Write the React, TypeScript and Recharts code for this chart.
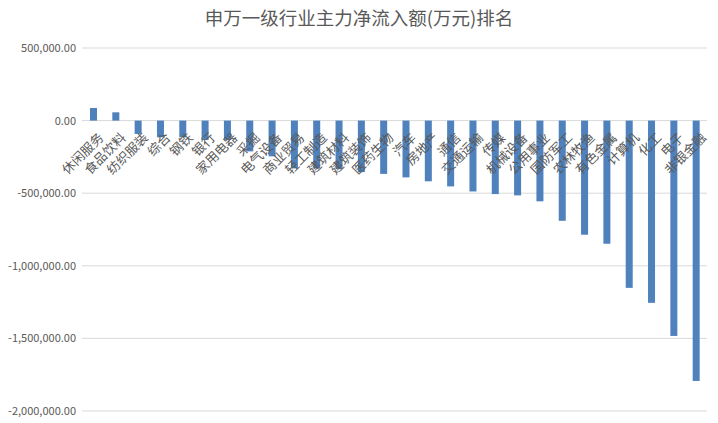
import React from 'react';
import { BarChart, Bar, XAxis, YAxis, CartesianGrid } from 'recharts';

document.body.style.margin = '0';

const categories = [
  '休闲服务', '食品饮料', '纺织服装', '综合', '钢铁', '银行', '家用电器',
  '采掘', '电气设备', '商业贸易', '轻工制造', '建筑材料', '建筑装饰', '医药生物',
  '汽车', '房地产', '通信', '交通运输', '传媒', '机械设备', '公用事业',
  '国防军工', '农林牧渔', '有色金属', '计算机', '化工', '电子', '非银金融',
];

// 主力净流入额 (万元)
const netInflow = [
  87000, 57000, -92000, -115000, -115000, -133000, -133000,
  -212000, -246000, -329000, -329000, -333000, -355000, -367000,
  -391000, -418000, -453000, -488000, -506000, -515000, -556000,
  -690000, -786000, -848000, -1152000, -1255000, -1483000, -1793000,
];

const yTicks = [500000, 0, -500000, -1000000, -1500000, -2000000];

const chartData = categories.map((name, i) => ({ name, value: netInflow[i] }));

const FONT = '"Noto Sans CJK SC", "Noto Sans", sans-serif';
const TEXT = '#595959';

const fmt = (v: number) =>
  v.toLocaleString('en-US', { minimumFractionDigits: 2, maximumFractionDigits: 2 });

// bar + its category label sitting on the zero line
const BarWithLabel = (props: any) => {
  const { x, y, width, height, payload } = props;
  const top = Math.min(y, y + height);
  const bottom = Math.max(y, y + height);
  const zeroY = payload.value >= 0 ? bottom : top;
  const lx = x + width / 2 + 7;
  const ly = zeroY + 14;
  return (
    <g>
      <rect x={x} y={top} width={width} height={bottom - top} fill="#4F81BD" />
      <text
        x={lx}
        y={ly}
        textAnchor="end"
        dominantBaseline="central"
        transform={`rotate(-45, ${lx}, ${ly})`}
        fontSize={13}
        fill={TEXT}
        fontFamily={FONT}
      >
        {payload.name}
      </text>
    </g>
  );
};

export default function App() {
  return (
    <div style={{ position: 'relative', width: 718, height: 423, background: '#fff' }}>
      <div
        style={{
          position: 'absolute',
          top: 4,
          left: 0,
          width: 718,
          textAlign: 'center',
          fontSize: 18.5,
          color: TEXT,
          fontFamily: FONT,
        }}
      >
        申万一级行业主力净流入额(万元)排名
      </div>
      <BarChart
        width={718}
        height={423}
        data={chartData}
        margin={{ top: 48, right: 11, left: 0, bottom: 12 }}
      >
        <CartesianGrid vertical={false} stroke="#D9D9D9" />
        <XAxis dataKey="name" hide />
        <YAxis
          width={82}
          domain={[-2000000, 500000]}
          ticks={yTicks}
          tickFormatter={fmt}
          axisLine={false}
          tickLine={false}
          tickSize={4}
          tickMargin={2}
          tick={{ fontSize: 11, fill: TEXT, fontFamily: FONT }}
        />
        <Bar dataKey="value" barSize={7} shape={<BarWithLabel />} isAnimationActive={false} />
      </BarChart>
    </div>
  );
}
